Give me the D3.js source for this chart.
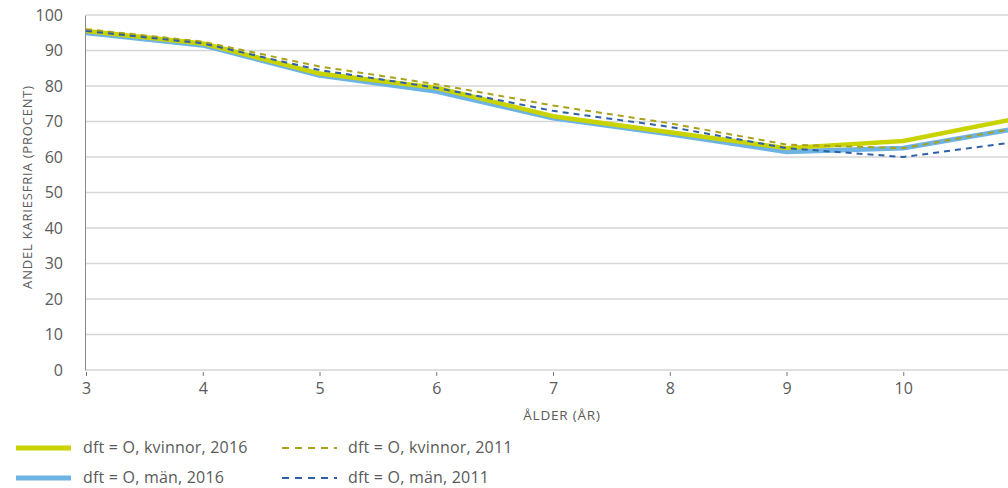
<!DOCTYPE html>
<html><head><meta charset="utf-8">
<script src="https://cdn.jsdelivr.net/npm/d3@7"></script>
<style>
html,body{margin:0;padding:0;background:#fff;overflow:hidden}
svg{display:block}
text{font-family:"Open Sans",Lato,sans-serif;fill:#5a5a5a;font-weight:400}
</style></head><body>
<script>
const ages = [3,4,5,6,7,8,9,10,11];
const kvinnor2016 = [95.5,92,83.5,79.5,71.5,67,62.5,64.5,71];
const man2016 = [95,91.5,83,78.5,71,66.5,61.5,62.5,68.2];
const kvinnor2011 = [96,92.5,85.5,80.5,74.5,69.5,63.5,62.5,68.3];
const man2011 = [95.5,92,84.5,79.5,73,68.5,62.5,60,64.4];
const yTicks = [0,10,20,30,40,50,60,70,80,90,100];
const xTicks = [3,4,5,6,7,8,9,10];
const legendLabels = ["dft = O, kvinnor, 2016","dft = O, män, 2016","dft = O, kvinnor, 2011","dft = O, män, 2011"];

const W=1008,H=488;
const svg=d3.select("body").append("svg").attr("width",W).attr("height",H);
const x=d3.scaleLinear().domain([3,11]).range([86,1020]);
const y=d3.scaleLinear().domain([0,100]).range([370,15]);

// grid
svg.append("g").selectAll("line").data(yTicks).join("line")
  .attr("x1",86).attr("x2",W).attr("y1",d=>y(d)).attr("y2",d=>y(d))
  .attr("stroke","#d6d6d6").attr("stroke-width",1.5);

// y axis
const ya=svg.append("g").attr("transform","translate(85,0)")
  .call(d3.axisLeft(y).tickValues(yTicks).tickSize(0).tickPadding(22));
ya.select(".domain").attr("stroke","#888").attr("stroke-width",1);
ya.selectAll("text").style("font-size","16px").attr("fill","#555");

// x axis
const xa=svg.append("g").attr("transform","translate(0,370)")
  .call(d3.axisBottom(x).tickValues(xTicks).tickSize(6).tickPadding(7));
xa.select(".domain").remove();
xa.selectAll("line").attr("stroke","#777").attr("y1",2);
xa.selectAll("text").style("font-size","16px").attr("fill","#555");

svg.append("text").attr("x",562).attr("y",420).attr("text-anchor","middle")
  .style("font-size","13.5px").style("letter-spacing","0.8px").attr("fill","#555").text("ÅLDER (ÅR)");
svg.append("text").attr("transform","translate(32,187) rotate(-90)").attr("text-anchor","middle")
  .style("font-size","13px").style("letter-spacing","0.8px").attr("fill","#555").text("ANDEL KARIESFRIA (PROCENT)");

const line=d3.line().x((d,i)=>x(ages[i])).y(d=>y(d));
const series=[
  {v:man2016,c:"#6db3e3",w:5,dash:null},
  {v:kvinnor2016,c:"#c9d300",w:4.5,dash:null},
  {v:kvinnor2011,c:"#a9a21a",w:2,dash:"6,5"},
  {v:man2011,c:"#2f5fa8",w:2,dash:"6,5"}
];
series.forEach(s=>{
  svg.append("path").datum(s.v).attr("d",line).attr("fill","none")
    .attr("stroke",s.c).attr("stroke-width",s.w).attr("stroke-dasharray",s.dash)
    .attr("stroke-linejoin","round");
});

// legend
const leg=[
  {x:16,tx:83,y:448,c:"#c9d300",w:5,dash:null,t:legendLabels[0]},
  {x:16,tx:83,y:478,c:"#6db3e3",w:5,dash:null,t:legendLabels[1]},
  {x:282,tx:348,y:448,c:"#a9a21a",w:2,dash:"7,6",t:legendLabels[2]},
  {x:282,tx:348,y:478,c:"#2f5fa8",w:2,dash:"7,6",t:legendLabels[3]}
];
leg.forEach(l=>{
  svg.append("line").attr("x1",l.x).attr("x2",l.x+55).attr("y1",l.y).attr("y2",l.y)
    .attr("stroke",l.c).attr("stroke-width",l.w).attr("stroke-dasharray",l.dash);
  svg.append("text").attr("x",l.tx).attr("y",l.y+5).style("font-size","16px").style("letter-spacing","0.2px").attr("fill","#666").text(l.t);
});
</script></body></html>
